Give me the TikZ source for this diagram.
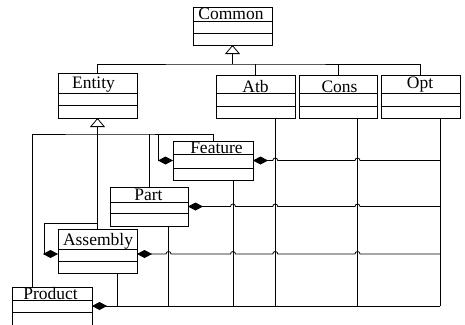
\documentclass[tikz,border=0pt]{standalone}
\usepackage{fontspec}
\setmainfont{Liberation Serif}
\usetikzlibrary{arrows.meta,fit,calc}

\tikzset{
  wire/.style={draw=black, line width=0.8pt},
  classbox/.style={draw=black, line width=0.8pt, inner sep=0pt, outer sep=0pt},
  classname/.style={anchor=base, inner sep=0pt, font=\fontsize{17.5}{20}\selectfont},
  genline/.style={wire, -{Triangle[open, length=9pt, width=15pt, line width=0.8pt]}},
  partof/.style={wire, {Diamond[length=15pt, width=8pt]}-},
}

% class box: name, label, left, top, right, bottom, divider 1, divider 2, label base point
\newcommand\umlclass[9]{%
  \node[classbox, fit={(#3,#4) (#5,#6)}] (#1) {};
  \draw[wire] (#3,#7) -- (#5,#7) (#3,#8) -- (#5,#8);
  \node[classname] (#1-name) at (#9) {#2};
}

\begin{document}
\begin{tikzpicture}[x=1pt,y=-1pt]
\useasboundingbox (0,0) rectangle (465,324);
\clip (0,0) rectangle (465,324);

% classes
\umlclass{common}{Common}{193}{7}{272}{45}{21}{33}{231,19}
\umlclass{entity}{Entity}{58}{73}{137}{118}{93}{105}{93.5,88}
\umlclass{atb}{Atb}{216}{75}{295}{118}{93}{106}{255.5,92}
\umlclass{cons}{Cons}{299}{75}{377}{118}{93}{106}{339.5,92}
\umlclass{opt}{Opt}{381}{75}{460}{118}{93}{106}{420,88}
\umlclass{feature}{Feature}{173}{141}{253}{180}{154}{168}{216.5,153}
\umlclass{part}{Part}{110}{187}{188}{226}{202}{213}{148.5,200}
\umlclass{assembly}{Assembly}{58}{229}{137}{273}{249}{261}{98,245}
\umlclass{product}{Product}{12}{287}{92}{325}{300}{312}{50.5,299}

% drop points at three quarters of each bottom edge
\foreach \c in {atb,cons,opt,feature,part,assembly}
  \coordinate (\c-d) at ($(\c.south west)!0.75!(\c.south east)$);
\coordinate (product-j) at ($(product.north west)!0.25!(product.north east)$);

% generalization: Entity, Atb, Cons, Opt -> Common
\coordinate (top-bus) at ($(common.south)+(0,19)$);
\draw[wire] (entity.north) |- (top-bus) -| (opt.north);
\draw[wire] (atb.north) -- (atb.north |- top-bus);
\draw[wire] (cons.north) -- (cons.north |- top-bus);
\draw[genline] (top-bus) -- (common.south);

% generalization: Product, Part, Feature, Assembly -> Entity
\coordinate (mid-bus) at ($(entity.south)+(0,16)$);
\draw[genline] (assembly.north) -- (entity.south);
\draw[wire] (product-j) |- (mid-bus) -| (feature.north);
\draw[wire] (part.north) -- (part.north |- mid-bus);

% self compositions
\coordinate (fs) at ($(feature.west)+(-15,0)$);
\draw[partof] (feature.west) -- (fs) -- (fs |- mid-bus);
\coordinate (as-w) at ([yshift=-3pt]assembly.west);
\coordinate (as-l) at ($(as-w)+(-14,0)$);
\coordinate (as-top) at ($(assembly.north)+(0,-6)$);
\draw[partof] (as-w) -- (as-l) |- (as-top);

% vertical lines down to the bottom rail
\foreach \c in {atb,cons,opt,feature,part,assembly}
  \draw[wire] (\c-d) -- (\c-d |- product.east);

% compositions to the right, hopping over crossings
\draw[partof] (feature.east)
  -- ($(atb-d |- feature.east)+(-2.5,0)$) arc[start angle=180, end angle=360, radius=2.5]
  -- ($(cons-d |- feature.east)+(-2.5,0)$) arc[start angle=180, end angle=360, radius=2.5]
  -- (opt-d |- feature.east);
\draw[partof] (part.east)
  -- ($(feature-d |- part.east)+(-2.5,0)$) arc[start angle=180, end angle=360, radius=2.5]
  -- ($(atb-d |- part.east)+(-2.5,0)$) arc[start angle=180, end angle=360, radius=2.5]
  -- ($(cons-d |- part.east)+(-2.5,0)$) arc[start angle=180, end angle=360, radius=2.5]
  -- (opt-d |- part.east);
\coordinate (as-e) at ([yshift=-3pt]assembly.east);
\draw[partof] (as-e)
  -- ($(part-d |- as-e)+(-2.5,0)$) arc[start angle=180, end angle=360, radius=2.5]
  -- ($(feature-d |- as-e)+(-2.5,0)$) arc[start angle=180, end angle=360, radius=2.5]
  -- ($(atb-d |- as-e)+(-2.5,0)$) arc[start angle=180, end angle=360, radius=2.5]
  -- ($(cons-d |- as-e)+(-2.5,0)$) arc[start angle=180, end angle=360, radius=2.5]
  -- (opt-d |- as-e);
\draw[partof] (product.east) -- (opt-d |- product.east);
\end{tikzpicture}
\end{document}
